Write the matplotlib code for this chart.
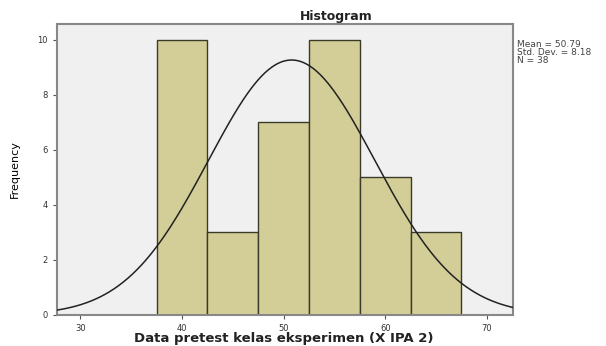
import numpy as np
import matplotlib
matplotlib.use("Agg")
import matplotlib.pyplot as plt

# pretest scores, binned in steps of 5
bin_edges = [37.5, 42.5, 47.5, 52.5, 57.5, 62.5, 67.5]
counts = [10, 3, 7, 10, 5, 3]
mean = 50.79
std_dev = 8.18
n = 38

fig = plt.figure(figsize=(6.06, 3.46), dpi=100)
ax = fig.add_axes([0.094, 0.09, 0.753, 0.841])
ax.set_facecolor("#f0f0f0")

widths = np.diff(bin_edges)
ax.bar(bin_edges[:-1], counts, width=widths, align="edge",
       color="#d3ce97", edgecolor="#3a3a2a", linewidth=1.0, zorder=2)

# normal curve scaled to counts
x = np.linspace(27.7, 72.6, 400)
y = n * widths[0] * np.exp(-0.5 * ((x - mean) / std_dev) ** 2) / (std_dev * np.sqrt(2 * np.pi))
ax.plot(x, y, color="#222222", linewidth=1.1, zorder=3)

ax.set_xlim(27.7, 72.6)
ax.set_ylim(0, 10.58)
ax.set_xticks([30, 40, 50, 60, 70])
ax.set_yticks([0, 2, 4, 6, 8, 10])
ax.tick_params(labelsize=6, length=3, color="#555555", labelcolor="#333333")
for s in ax.spines.values():
    s.set_color("#888888")
    s.set_linewidth(1.5)

fig.text(0.555, 0.953, "Histogram", fontsize=9, fontweight="bold",
         ha="center", va="center", color="#222222")
fig.text(0.469, 0.023, "Data pretest kelas eksperimen (X IPA 2)", fontsize=9.5,
         fontweight="bold", ha="center", va="center", color="#222222")
ax.set_ylabel("Frequency", fontsize=8, labelpad=13)

fig.text(0.853, 0.885, "Mean = %.2f\nStd. Dev. = %.2f\nN = %d" % (mean, std_dev, n),
         fontsize=6.5, va="top", ha="left", color="#444444", linespacing=0.9)

fig.savefig("out.png", dpi=100)
